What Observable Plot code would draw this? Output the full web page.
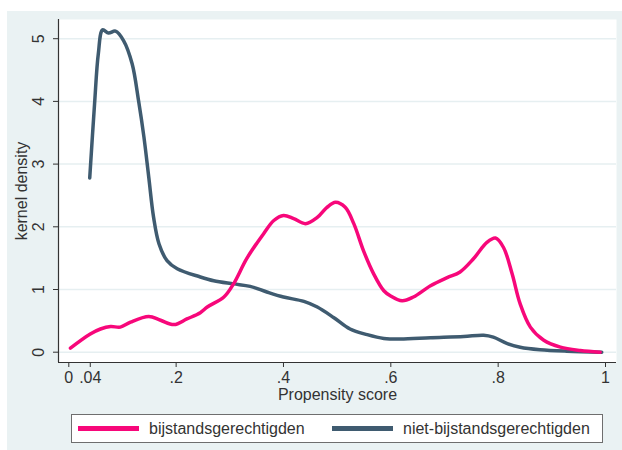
<!DOCTYPE html>
<html>
<head>
<meta charset="utf-8">
<script src="https://cdn.jsdelivr.net/npm/d3@7"></script>
<script src="https://cdn.jsdelivr.net/npm/@observablehq/plot@0.6"></script>
<style>
  html, body { margin: 0; padding: 0; background: #ffffff; }
  #wrap { position: relative; width: 622px; height: 450px; overflow: hidden; font-family: "Liberation Sans", Arial, sans-serif; }
  #bg { position: absolute; left: 7px; top: 11px; width: 615px; height: 439px; background: #eaf2f3; }
  #chart { position: absolute; left: 0; top: 0; }
  #legend { position: absolute; left: 71px; top: 414px; width: 530px; height: 27px; background: #ffffff; border: 1.5px solid #6e6e6e; }
  .item { position: absolute; top: 0; height: 27px; display: flex; align-items: center; font-size: 16px; color: #333; }
  .swatch { width: 61px; height: 5px; margin-right: 10px; }
</style>
</head>
<body>
<div id="wrap">
  <div id="bg"></div>
  <div id="chart"></div>
  <div id="legend"></div>
</div>
<script>
// ---- data ----
const seriesNames = ["bijstandsgerechtigden", "niet-bijstandsgerechtigden"];

const bijX = [0.003, 0.040, 0.059, 0.078, 0.096, 0.115, 0.149, 0.171, 0.196, 0.220, 0.245, 0.258, 0.289, 0.307, 0.332, 0.363, 0.382, 0.400, 0.419, 0.441, 0.463, 0.481, 0.497, 0.515, 0.531, 0.549, 0.568, 0.587, 0.599, 0.621, 0.642, 0.674, 0.705, 0.729, 0.754, 0.779, 0.795, 0.810, 0.826, 0.841, 0.860, 0.885, 0.916, 0.953, 0.990];
const bijY = [0.065, 0.29, 0.37, 0.41, 0.40, 0.48, 0.57, 0.51, 0.44, 0.53, 0.63, 0.72, 0.88, 1.09, 1.50, 1.89, 2.10, 2.18, 2.13, 2.05, 2.15, 2.31, 2.39, 2.31, 2.05, 1.62, 1.25, 0.98, 0.90, 0.82, 0.88, 1.06, 1.19, 1.28, 1.49, 1.75, 1.82, 1.67, 1.25, 0.77, 0.40, 0.19, 0.08, 0.027, 0.0];

const nietX = [0.039, 0.048, 0.055, 0.063, 0.074, 0.087, 0.102, 0.118, 0.130, 0.140, 0.149, 0.158, 0.168, 0.183, 0.202, 0.245, 0.270, 0.307, 0.338, 0.369, 0.400, 0.438, 0.463, 0.494, 0.524, 0.556, 0.587, 0.618, 0.674, 0.736, 0.773, 0.791, 0.816, 0.841, 0.878, 0.928, 0.993];
const nietY = [2.78, 3.96, 4.76, 5.14, 5.09, 5.12, 4.97, 4.60, 4.01, 3.43, 2.79, 2.15, 1.73, 1.46, 1.33, 1.20, 1.14, 1.09, 1.05, 0.96, 0.88, 0.81, 0.72, 0.55, 0.37, 0.28, 0.22, 0.21, 0.23, 0.25, 0.27, 0.24, 0.14, 0.08, 0.04, 0.016, 0.0];

const xTicks = [0, 0.04, 0.2, 0.4, 0.6, 0.8, 1];
const xTickLabels = ["0", ".04", ".2", ".4", ".6", ".8", "1"];
const yTicks = [0, 1, 2, 3, 4, 5];
const yTickLabels = ["0", "1", "2", "3", "4", "5"];

const colors = ["#f7077a", "#3f5b70"];

// ---- build tables ----
const bij = bijX.map((x, i) => ({x, y: bijY[i], s: seriesNames[0]}));
const niet = nietX.map((x, i) => ({x, y: nietY[i], s: seriesNames[1]}));

const plot = Plot.plot({
  width: 622,
  height: 410,
  marginLeft: 58,
  marginRight: 6,
  marginTop: 19,
  marginBottom: 48,
  insetLeft: 10.3,
  insetRight: 11,
  insetTop: 19.2,
  insetBottom: 10.3,
  style: {background: "transparent", fontFamily: "'Liberation Sans', Arial, sans-serif", fontSize: "16px", color: "#333"},
  x: {domain: [0, 1]},
  y: {domain: [0, 5]},
  marks: [
    Plot.frame({fill: "white", stroke: "none"}),
    Plot.gridY(yTicks, {stroke: "#e6eff1", strokeOpacity: 1, strokeWidth: 1.5}),
    Plot.line(niet, {x: "x", y: "y", stroke: colors[1], strokeWidth: 3.5, curve: "catmull-rom"}),
    Plot.line(bij, {x: "x", y: "y", stroke: colors[0], strokeWidth: 3.5, curve: "catmull-rom"}),
    Plot.ruleX([0], {dx: -10.3, stroke: "#333", strokeWidth: 1.2}),
    Plot.ruleY([0], {dy: 10.3, stroke: "#333", strokeWidth: 1.2}),
    Plot.axisY({ticks: yTicks, tickSize: 5, tickFormat: () => "", label: null, stroke: "#333"}),
    Plot.text(yTicks, {y: d => d, text: (d, i) => yTickLabels[i], frameAnchor: "left", textAnchor: "middle", lineAnchor: "middle", dx: -19.5, rotate: -90, fill: "#333", fontSize: 16}),
    Plot.text(["kernel density"], {frameAnchor: "left", textAnchor: "middle", lineAnchor: "middle", dx: -37, rotate: -90, fill: "#333", fontSize: 16}),
    Plot.axisX({ticks: xTicks, tickSize: 5, tickPadding: 4, tickFormat: (d) => xTickLabels[xTicks.indexOf(d)], label: null, stroke: "#333", fill: "#333", fontSize: 16}),
    Plot.text(["Propensity score"], {frameAnchor: "bottom", textAnchor: "middle", lineAnchor: "middle", dy: 32, fill: "#333", fontSize: 16})
  ]
});
document.getElementById("chart").appendChild(plot);

// ---- legend ----
const legend = document.getElementById("legend");
const itemLeft = [6, 260];
seriesNames.forEach((name, i) => {
  const item = document.createElement("div");
  item.className = "item";
  item.style.left = itemLeft[i] + "px";
  const sw = document.createElement("div");
  sw.className = "swatch";
  sw.style.background = colors[i];
  const label = document.createElement("span");
  label.textContent = name;
  item.appendChild(sw);
  item.appendChild(label);
  legend.appendChild(item);
});
</script>
</body>
</html>
